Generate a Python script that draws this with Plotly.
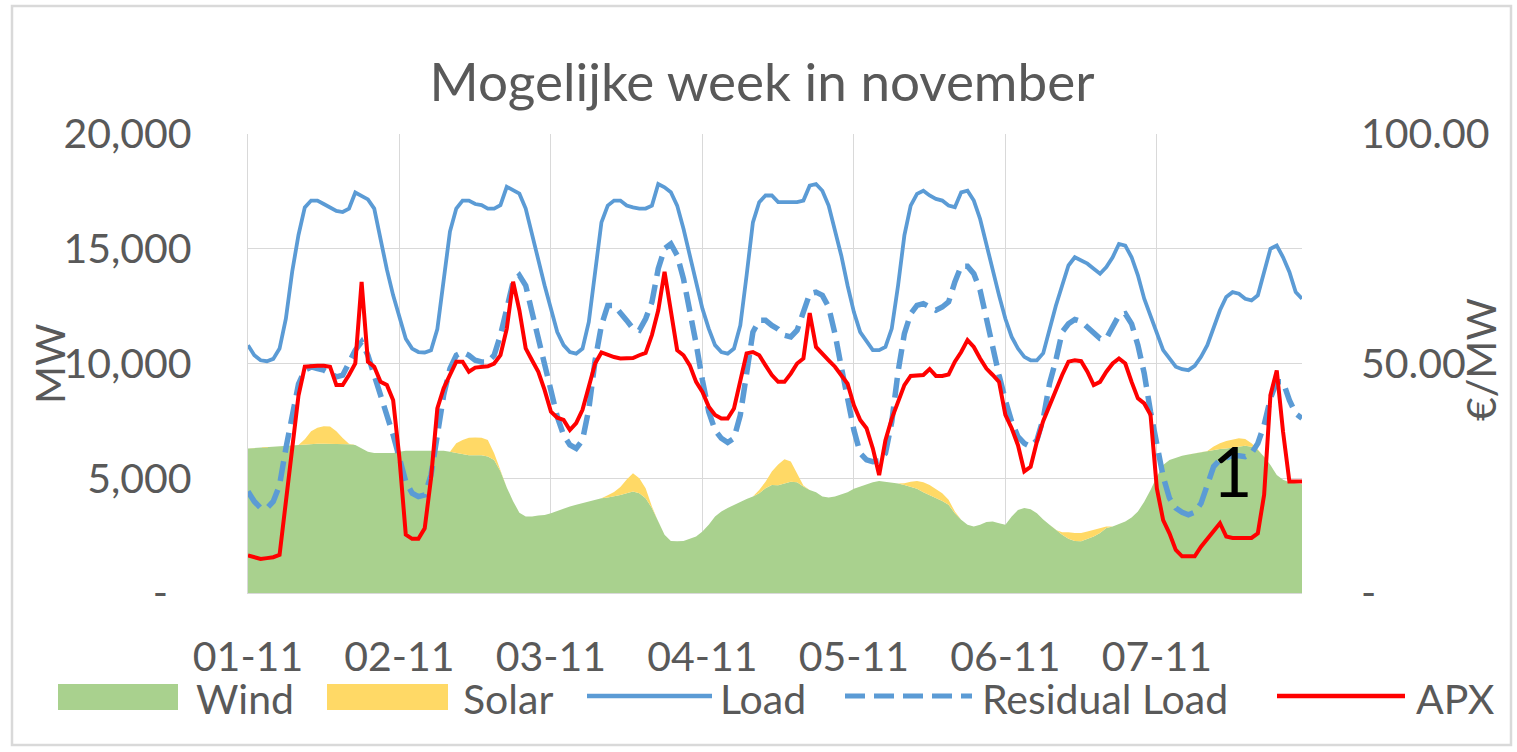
import pandas as pd
import plotly.graph_objects as go

# ---------------- data (hourly, 1-7 November) ----------------
start = "2015-11-01 00:00"
n_hours = 168
day_labels = ["01-11", "02-11", "03-11", "04-11", "05-11", "06-11", "07-11"]

load = [
    10800, 10360, 10140, 10100, 10200, 10650, 11950, 14000, 15600, 16800, 17100, 17100,
    16950, 16800, 16650, 16600, 16750, 17450, 17300, 17150, 16750, 15400, 14100, 12970,
    11950, 11080, 10650, 10500, 10480, 10580, 11500, 13700, 15750, 16750, 17100, 17100,
    16950, 16900, 16750, 16750, 16900, 17700, 17550, 17400, 16750, 15580, 14420, 13400,
    12390, 11370, 10800, 10500, 10430, 10650, 11810, 13990, 16150, 16880, 17100, 17100,
    16880, 16800, 16750, 16750, 16880, 17820, 17680, 17460, 16880, 15870, 14710, 13550,
    12390, 11520, 10800, 10500, 10430, 10650, 11660, 13840, 16150, 17030, 17320, 17320,
    17030, 17030, 17030, 17030, 17100, 17750, 17820, 17530, 16880, 15870, 14710, 13400,
    12240, 11370, 10940, 10580, 10580, 10720, 11520, 13400, 15580, 16880, 17390, 17530,
    17320, 17170, 17100, 16880, 16810, 17460, 17530, 17100, 16300, 15140, 13990, 12970,
    11950, 11160, 10650, 10290, 10140, 10140, 10450, 11520, 12520, 13400, 14270, 14630,
    14490, 14350, 14130, 13910, 14200, 14630, 15210, 15140, 14630, 13840, 12820, 12100,
    11300, 10580, 10220, 9860, 9750, 9710, 9900, 10290, 10800, 11520, 12320, 12900,
    13110, 13040, 12820, 12750, 12970, 13990, 15000, 15140, 14630, 13990, 13110, 12820,
]

wind = [
    6300, 6320, 6340, 6360, 6380, 6400, 6420, 6440, 6450, 6470, 6480, 6500,
    6500, 6500, 6500, 6500, 6480, 6450, 6300, 6150, 6100, 6100, 6100, 6100,
    6150, 6200, 6200, 6200, 6200, 6200, 6200, 6200, 6150, 6100, 6050, 6000,
    6000, 6000, 5950, 5800, 5300, 4600, 4000, 3500, 3330, 3330, 3380, 3400,
    3480, 3580, 3700, 3770, 3840, 3910, 4010, 4060, 4130, 4160, 4200, 4270,
    4350, 4420, 4350, 4130, 3700, 3120, 2540, 2270, 2250, 2270, 2360, 2460,
    2680, 2970, 3330, 3550, 3700, 3840, 3980, 4100, 4200, 4350, 4560, 4710,
    4700, 4780, 4850, 4830, 4640, 4490, 4390, 4200, 4160, 4200, 4300, 4390,
    4540, 4640, 4710, 4830, 4880, 4850, 4830, 4770, 4710, 4640, 4540, 4390,
    4270, 4160, 4010, 3840, 3480, 3190, 2970, 2900, 2970, 3090, 3120, 3040,
    2970, 3330, 3620, 3700, 3650, 3480, 3200, 2970, 2750, 2540, 2360, 2270,
    2250, 2360, 2460, 2610, 2830, 2900, 3000, 3120, 3290, 3550, 3980, 4490,
    5070, 5580, 5800, 5900, 5980, 6040, 6090, 6130, 6190, 6230, 6270, 6300,
    6330, 6370, 6420, 6370, 6230, 5940, 5580, 5140, 4930, 4830, 4780, 4740,
]

solar = [
    0, 0, 0, 0, 0, 0, 0, 0, 0, 230, 570, 700,
    770, 750, 550, 250, 20, 0, 0, 0, 0, 0, 0, 0,
    0, 0, 0, 0, 0, 0, 0, 0, 0, 420, 620, 770,
    780, 770, 720, 290, 50, 0, 0, 0, 0, 0, 0, 0,
    0, 0, 0, 0, 0, 0, 0, 0, 0, 100, 200, 350,
    600, 800, 650, 430, 70, 0, 0, 0, 0, 0, 0, 0,
    0, 0, 0, 0, 0, 0, 0, 0, 0, 140, 290, 580,
    900, 1050, 880, 390, 40, 0, 0, 0, 0, 0, 0, 0,
    0, 0, 0, 0, 0, 0, 0, 0, 70, 210, 340, 440,
    440, 380, 340, 220, 70, 0, 0, 0, 0, 0, 0, 0,
    0, 0, 0, 0, 0, 0, 0, 0, 0, 110, 290, 340,
    360, 320, 290, 220, 70, 0, 0, 0, 0, 0, 0, 0,
    0, 0, 0, 0, 0, 0, 0, 0, 0, 150, 250, 320,
    360, 370, 290, 150, 30, 0, 0, 0, 0, 0, 0, 0,
]

residual_load = [
    4420, 3990, 3700, 3700, 3990, 4700, 6300, 7700, 9100, 9710, 9850, 9780,
    9710, 9560, 9420, 9490, 10000, 10580, 10940, 10360, 9490, 8620, 7900, 6880,
    5870, 4850, 4350, 4200, 4270, 5140, 6880, 8620, 9780, 10360, 10500, 10360,
    10140, 10070, 10070, 10360, 11230, 12520, 13550, 13840, 13400, 12240, 11080, 10000,
    8840, 7680, 6880, 6450, 6300, 6660, 8010, 10140, 11660, 12530, 12530, 12240,
    11880, 11520, 11450, 11950, 12680, 14130, 15000, 15210, 14710, 13690, 12390, 10870,
    9270, 7900, 7100, 6740, 6560, 6740, 7750, 9780, 11370, 11880, 11880, 11660,
    11500, 11230, 11160, 11450, 12320, 13040, 13110, 12970, 12460, 11300, 9850, 8400,
    7100, 6090, 5800, 5720, 5750, 6090, 7460, 9640, 11300, 12170, 12530, 12610,
    12460, 12320, 12460, 12680, 13550, 14240, 14240, 13910, 13190, 11880, 10580, 9490,
    8400, 7460, 6810, 6520, 6380, 6660, 7600, 9130, 10140, 11370, 11730, 11920,
    11830, 11590, 11350, 11090, 11090, 11590, 12100, 12170, 11730, 10800, 9570, 7900,
    6450, 5070, 4130, 3700, 3520, 3410, 3520, 3910, 4710, 5510, 5800, 5900,
    5980, 5980, 5940, 6090, 6520, 7320, 8480, 9200, 9200, 8400, 7820, 7610,
]

apx = [
    8.2, 7.8, 7.4, 7.6, 7.8, 8.3, 19.9, 33.0, 43.0, 49.3, 49.5, 49.5,
    49.5, 49.3, 45.3, 45.3, 47.5, 50.0, 67.8, 50.4, 49.3, 46.0, 45.3, 42.0,
    29.3, 12.7, 11.8, 11.8, 14.1, 25.0, 40.2, 44.6, 47.5, 50.4, 50.4, 48.2,
    49.1, 49.3, 49.4, 50.0, 51.8, 57.6, 67.8, 61.6, 53.3, 50.7, 48.2, 44.2,
    39.5, 38.2, 37.7, 35.5, 37.0, 39.9, 44.6, 50.0, 52.4, 51.8, 51.4, 51.1,
    51.1, 51.2, 51.8, 52.3, 56.2, 61.6, 70.0, 62.0, 52.9, 51.8, 49.6, 46.0,
    43.8, 40.6, 38.8, 38.0, 38.0, 40.2, 46.7, 52.2, 52.5, 51.8, 49.6, 47.5,
    46.0, 46.0, 47.8, 50.0, 51.1, 61.0, 53.6, 52.0, 50.7, 49.3, 47.6, 45.6,
    40.9, 37.7, 35.9, 31.5, 25.7, 33.3, 38.0, 41.7, 45.3, 47.3, 47.5, 47.5,
    48.8, 47.3, 47.3, 47.6, 50.4, 52.5, 55.1, 53.6, 51.1, 48.9, 47.5, 46.0,
    38.8, 35.9, 32.2, 26.5, 27.5, 33.0, 37.5, 40.9, 43.8, 47.5, 50.4, 50.7,
    50.5, 48.2, 45.3, 46.0, 48.2, 50.0, 51.1, 50.0, 46.0, 42.4, 41.3, 38.8,
    22.8, 15.9, 13.0, 9.4, 8.0, 8.0, 8.0, 10.1, 11.8, 13.4, 15.2, 12.3,
    12.0, 12.0, 12.0, 12.0, 13.0, 21.4, 43.1, 48.5, 35.1, 24.3, 24.3, 24.3,
]

left_tickvals = [0, 5000, 10000, 15000, 20000]
left_ticktext = ["-\u2007", "5,000", "10,000", "15,000", "20,000"]
right_tickvals = [0, 50, 100]
right_ticktext = ["-", "50.00", "100.00"]

# ---------------- styling ----------------
FONT = "Lato"
GREY = "#595959"
GRID = "#D9D9D9"
C_WIND = "#A9D18E"
C_SOLAR = "#FFD966"
C_LOAD = "#5B9BD5"
C_APX = "#FF0000"
TICK_SIZE = 41

W, H = 1517, 752
PL, PR, PT, PB = 248, 1302, 134, 593   # plot area in pixels


def px(X):
    return (X - PL) / (PR - PL)


def py(Y):
    return (PB - Y) / (PB - PT)


times = pd.date_range(start, periods=n_hours, freq="h")
day_ticks = pd.date_range(start, periods=len(day_labels), freq="D")

fig = go.Figure()
fig.add_trace(go.Scatter(x=times, y=wind, name="Wind", mode="lines",
                         stackgroup="re", line=dict(width=0, color=C_WIND),
                         fillcolor=C_WIND))
fig.add_trace(go.Scatter(x=times, y=solar, name="Solar", mode="lines",
                         stackgroup="re", line=dict(width=0, color=C_SOLAR),
                         fillcolor=C_SOLAR))
fig.add_trace(go.Scatter(x=times, y=load, name="Load", mode="lines",
                         line=dict(color=C_LOAD, width=3.8)))
fig.add_trace(go.Scatter(x=times, y=residual_load, name="Residual Load", mode="lines",
                         line=dict(color=C_LOAD, width=5.5, dash="20px,9px")))
fig.add_trace(go.Scatter(x=times, y=apx, name="APX", mode="lines", yaxis="y2",
                         line=dict(color=C_APX, width=4)))

fig.update_layout(
    width=W, height=H, autosize=False,
    margin=dict(l=PL, r=W - PR, t=PT, b=H - PB, pad=0),
    paper_bgcolor="white", plot_bgcolor="white",
    showlegend=False,
    font=dict(family=FONT, color=GREY, size=TICK_SIZE),
    title=dict(text="Mogelijke week in november", x=762 / W, xref="container",
               xanchor="center", y=1 - 82 / H, yref="container", yanchor="middle",
               font=dict(family=FONT, size=53, color=GREY)),
    xaxis=dict(type="date", range=[times[0], times[-1]],
               tickvals=list(day_ticks), ticktext=day_labels,
               showgrid=True, gridcolor=GRID, gridwidth=1.3,
               showline=True, linecolor=GRID, linewidth=1.3,
               zeroline=False, ticks="", ticklabelstandoff=28,
               tickfont=dict(size=TICK_SIZE, color=GREY, family=FONT)),
    yaxis=dict(range=[0, 20000], tickvals=left_tickvals, ticktext=left_ticktext,
               showgrid=True, gridcolor=GRID, gridwidth=1.3,
               showline=True, linecolor=GRID, linewidth=1.3,
               zeroline=False, ticks="", ticklabelstandoff=47,
               tickfont=dict(size=TICK_SIZE, color=GREY, family=FONT)),
    yaxis2=dict(range=[0, 100], tickvals=right_tickvals, ticktext=right_ticktext,
                overlaying="y", side="right", showgrid=False, zeroline=False,
                showline=False, ticks="", ticklabelstandoff=58,
                tickfont=dict(size=TICK_SIZE, color=GREY, family=FONT)),
)

shapes = []
annotations = []

# chart border
shapes.append(dict(type="rect", xref="paper", yref="paper",
                   x0=px(12), x1=px(1511), y0=py(6), y1=py(745),
                   line=dict(color=GRID, width=2.5), layer="below"))

# axis titles
annotations.append(dict(text="MW", xref="paper", yref="paper", x=px(49), y=py(364),
                        xanchor="center", yanchor="middle", textangle=-90,
                        showarrow=False, font=dict(size=TICK_SIZE, color=GREY, family=FONT)))
annotations.append(dict(text="€/MW", xref="paper", yref="paper", x=px(1480), y=py(360),
                        xanchor="center", yanchor="middle", textangle=-90,
                        showarrow=False, font=dict(size=TICK_SIZE, color=GREY, family=FONT)))

# the "1" marker inside the chart
annotations.append(dict(text="1", xref="x", yref="y", x=times[156], y=5350,
                        xanchor="center", yanchor="middle", showarrow=False,
                        font=dict(size=70, color="black", family=FONT)))

# custom legend (Excel-style long symbols)
LY = 698
legend_items = [
    ("rect", C_WIND, 58, 178, "Wind", 194),
    ("rect", C_SOLAR, 327, 448, "Solar", 461),
    ("line", C_LOAD, 587, 712, "Load", 718),
    ("dash", C_LOAD, 845, 972, "Residual Load", 980),
    ("line", C_APX, 1277, 1405, "APX", 1414),
]
for kind, col, x0, x1, label, tx in legend_items:
    if kind == "rect":
        shapes.append(dict(type="rect", xref="paper", yref="paper",
                           x0=px(x0), x1=px(x1), y0=py(LY + 12), y1=py(LY - 14),
                           fillcolor=col, line=dict(width=0)))
    else:
        shapes.append(dict(type="line", xref="paper", yref="paper",
                           x0=px(x0), x1=px(x1), y0=py(LY - 2), y1=py(LY - 2),
                           line=dict(color=col, width=5 if kind == "dash" else 4.5,
                                     dash="20px,9px" if kind == "dash" else "solid")))
    annotations.append(dict(text=label, xref="paper", yref="paper", x=px(tx), y=py(LY),
                            xanchor="left", yanchor="middle", showarrow=False,
                            font=dict(size=TICK_SIZE, color=GREY, family=FONT)))

fig.update_layout(shapes=shapes, annotations=annotations)

fig.write_html("out.html", config={"displayModeBar": False},
               post_script="document.body.style.margin='0px';")
